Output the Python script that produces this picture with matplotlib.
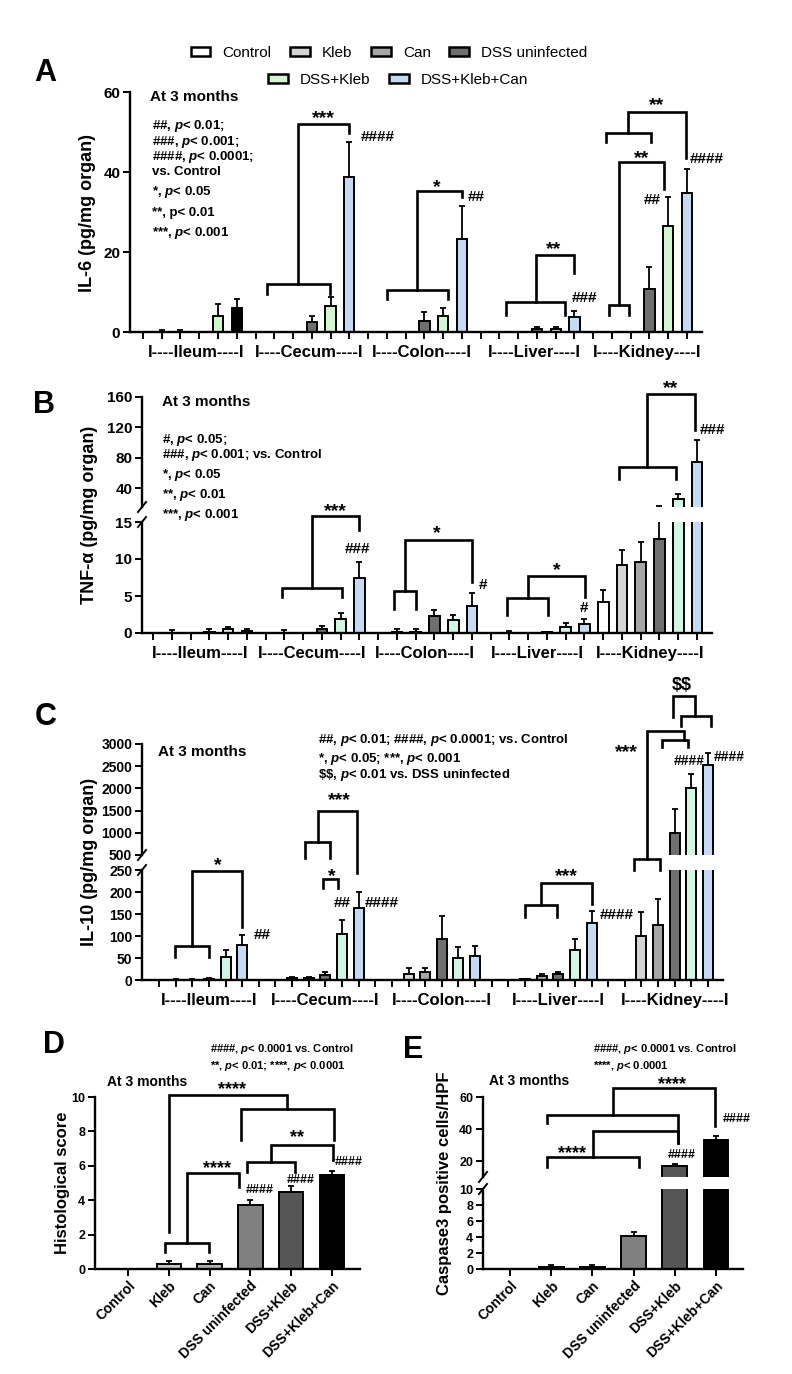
# -*- coding: UTF-8 -*-
# cytokines / histology / caspase3 at 3 months, prism-like style
import numpy as np
import matplotlib
matplotlib.use('Agg')
import matplotlib.pyplot as plt
from matplotlib.patches import Patch

plt.rcParams['font.family'] = ['Liberation Sans', 'DejaVu Sans']
plt.rcParams['font.weight'] = 'bold'
plt.rcParams['mathtext.fontset'] = 'custom'
plt.rcParams['mathtext.it'] = 'Liberation Sans:italic:bold'
plt.rcParams['mathtext.rm'] = 'Liberation Sans:bold'
plt.rcParams['mathtext.bf'] = 'Liberation Sans:bold'

W, H = 792, 1374

groups = ['Control', 'Kleb', 'Can', 'DSS uninfected', 'DSS+Kleb', 'DSS+Kleb+Can']
organs = ['Ileum', 'Cecum', 'Colon', 'Liver', 'Kidney']

# IL-6 (pg/mg organ), 6 groups per organ
il6_mean = [0, 0, 0, 0, 4.0, 6.0,
            0, 0, 0, 2.4, 6.4, 38.8,
            0, 0, 0, 2.8, 4.0, 23.2,
            0, 0, 0, 0.7, 0.8, 3.8,
            0, 0, 0, 10.8, 26.5, 34.8]
il6_sem = [0, 0.5, 0.5, 0, 3.0, 2.2,
           0, 0, 0, 1.7, 2.4, 8.7,
           0, 0, 0, 2.2, 2.0, 8.3,
           0, 0, 0, 0.6, 0.5, 1.4,
           0, 0, 0, 5.5, 7.3, 6.0]

# TNF-alpha
tnf_mean = [0, 0, 0, 0.2, 0.5, 0.3,
            0, 0, 0, 0.5, 1.9, 7.4,
            0, 0.2, 0.2, 2.3, 1.75, 3.65,
            0, 0, 0, 0.1, 0.8, 1.2,
            4.2, 9.2, 9.6, 12.7, 25.5, 74]
tnf_sem = [0, 0.4, 0, 0.3, 0.3, 0.3,
           0, 0.35, 0, 0.5, 0.8, 2.2,
           0, 0.4, 0.3, 0.8, 0.65, 1.75,
           0, 0.3, 0, 0.1, 0.55, 0.7,
           1.6, 2.0, 2.7, 3.8, 6.5, 29]

# IL-10
il10_mean = [0, 1, 1, 3, 52, 80,
             0, 4, 4, 12, 104, 163,
             0, 14, 18, 93, 50, 55,
             0, 2, 10, 14, 68, 130,
             0, 100, 125, 1000, 2020, 2520]
il10_sem = [0, 0.5, 0.5, 1, 16, 22,
            0, 2, 2, 7, 33, 37,
            0, 13, 9, 52, 25, 22,
            0, 1, 3, 4, 25, 27,
            0, 55, 60, 545, 300, 280]

# histological score
histo_mean = [0, 0.28, 0.28, 3.75, 4.5, 5.45]
histo_sem = [0, 0.2, 0.2, 0.27, 0.33, 0.22]

# caspase3 positive cells / HPF
casp_mean = [0, 0.2, 0.2, 4.15, 16.7, 33.2]
casp_sem = [0, 0.25, 0.25, 0.5, 1.5, 2.5]

grp_colors = ['white', '#d4d4d4', '#a6a6a6', '#6f6f6f', '#d3f5cf', '#c7daf3']
grp_colors2 = ['white', '#d4d4d4', '#a6a6a6', '#6f6f6f', '#d2f5e4', '#c7daf3']
gray_colors = ['white', '#c8c8c8', '#b0b0b0', '#808080', '#565656', '#000000']

STAR = 14

fig = plt.figure(figsize=(W / 100, H / 100), dpi=100)


def px_axes(l, t, r, b):
    return fig.add_axes([l / W, 1 - b / H, (r - l) / W, (b - t) / H])


def ftext(x, y, s, **kw):
    fig.text(x / W, 1 - y / H, s, **kw)


def setup(ax, xlim, ylim, yticks, fs, xticks=None):
    ax.set_xlim(xlim)
    ax.set_ylim(ylim)
    ax.set_yticks(yticks)
    ax.spines[['top', 'right']].set_visible(False)
    ax.spines['left'].set_linewidth(1.7)
    ax.spines['bottom'].set_linewidth(1.7)
    ax.tick_params(direction='out', length=5, width=1.4, labelsize=fs, pad=2)
    if xticks is not None:
        ax.set_xticks(xticks)
        ax.set_xticklabels([])
    else:
        ax.spines['bottom'].set_visible(False)
        ax.tick_params(axis='x', bottom=False, labelbottom=False)
    ax.patch.set_alpha(0)


def bars(ax, x, mean, sem, colors, width):
    x = np.asarray(x, float)
    mean = np.asarray(mean, float)
    sem = np.asarray(sem, float)
    ax.bar(x, mean, width=width, color=colors, edgecolor='black', linewidth=1.4, zorder=2)
    m = sem > 0
    ax.errorbar(x[m], mean[m], yerr=[np.zeros(m.sum()), sem[m]], fmt='none', ecolor='black',
                elinewidth=1.3, capsize=2.5, capthick=1.3, zorder=3)


def path(ax, xs, ys):
    ax.plot(xs, ys, color='black', lw=1.9, clip_on=False, solid_joinstyle='miter', zorder=5)


def nest(ax, x1, x2, h, leg, top, x3, leg3):
    path(ax, [x1, x1, x2, x2], [leg, h, h, leg])
    xm = (x1 + x2) / 2
    path(ax, [xm, xm, x3, x3], [h, top, top, leg3])


def lab(ax, x, y, s, fs=11):
    ax.text(x, y, s, ha='center', va='center', fontsize=fs, clip_on=False, zorder=6)


def slash(ax, yfrac):
    bb = ax.get_position()
    dx = 4 / (bb.width * W)
    dy = 5 / (bb.height * H)
    ax.plot([-dx, dx], [yfrac - dy, yfrac + dy], transform=ax.transAxes, color='black',
            lw=1.4, clip_on=False)


def organ_labels(ax, centers):
    for xc, name in zip(centers, organs):
        ax.annotate('I----' + name + '----I', xy=(xc, 0), xycoords=('data', 'axes fraction'),
                    xytext=(0, -14.5), textcoords='offset points', ha='center', va='center',
                    fontsize=12)


# ---------------- legend ----------------
handles = [Patch(facecolor=c, edgecolor='black', linewidth=1.8, label=g)
           for g, c in zip(groups, grp_colors)]
leg_font = {'family': ['Liberation Sans Narrow', 'Liberation Sans'], 'weight': 'normal', 'size': 11}
fig.legend(handles=handles[:4], loc='center', bbox_to_anchor=(389 / W, 1 - 53 / H), ncol=4,
           frameon=False, prop=leg_font, handlelength=1.3, handleheight=0.55,
           handletextpad=0.8, columnspacing=1.2)
fig.legend(handles=handles[4:], loc='center', bbox_to_anchor=(398 / W, 1 - 80 / H), ncol=2,
           frameon=False, prop=leg_font, handlelength=1.3, handleheight=0.55,
           handletextpad=0.8, columnspacing=1.2)

# ---------------- A : IL-6 ----------------
xA = np.arange(30)
colA = grp_colors * 5
colA[5] = 'black'
axA = px_axes(130, 92, 702, 332)
setup(axA, (-0.69, 29.8), (0, 60), [0, 20, 40, 60], 11, xticks=xA)
bars(axA, xA, il6_mean, il6_sem, colA, 0.55)
organ_labels(axA, [o * 6 + 2.85 for o in range(5)])
ftext(130 - 43, 213, 'IL-6 (pg/mg organ)', rotation=90, ha='center', va='center', fontsize=13)
ftext(34, 73, 'A', fontsize=22, ha='left', va='center')
ftext(150, 97, 'At 3 months', fontsize=11, ha='left', va='center')
a_lines = [r'##, $p$< 0.01;', r'###, $p$< 0.001;', r'####, $p$< 0.0001;', 'vs. Control',
           r'*, $p$< 0.05', '**, p< 0.01', r'***, $p$< 0.001']
for s, y in zip(a_lines, [126, 142, 157, 172, 192, 213, 233]):
    ftext(152, y, s, fontsize=9.5, ha='left', va='center')

nest(axA, 6.61, 9.97, 12, 9.5, 52, 10.98, 49.75)
lab(axA, 9.6, 53.25, '***', STAR)
lab(axA, 12.5, 48.75, '####')
nest(axA, 13.0, 16.26, 10.5, 8.25, 35.25, 17.0, 33.75)
lab(axA, 15.67, 36.0, '*', STAR)
lab(axA, 17.75, 33.75, '##')
nest(axA, 19.35, 22.5, 7.5, 4.25, 19.25, 22.97, 14.75)
lab(axA, 21.9, 20.5, '**', STAR)
lab(axA, 23.56, 8.5, '###')
nest(axA, 24.84, 25.9, 6.75, 4.25, 42.5, 27.77, 35.75)
lab(axA, 26.6, 43.25, '**', STAR)
lab(axA, 27.13, 33, '##')
nest(axA, 24.68, 27.08, 49.75, 47.5, 55, 28.94, 43.5)
lab(axA, 27.4, 56.5, '**', STAR)
lab(axA, 30.06, 43.25, '####')

# ---------------- B : TNF-alpha ----------------
xB = np.arange(30)
axBh = px_axes(142, 397, 712, 507)
axBl = px_axes(142, 522, 712, 633)
setup(axBh, (-0.59, 29.8), (15, 160), [40, 80, 120, 160], 11)
setup(axBl, (-0.59, 29.8), (0, 15), [0, 5, 10, 15], 11, xticks=xB)
for ax in (axBh, axBl):
    bars(ax, xB, tnf_mean, tnf_sem, grp_colors2 * 5, 0.57)
slash(axBh, 0)
slash(axBl, 1)
organ_labels(axBl, [o * 6 + 2.5 for o in range(5)])
ftext(90, 515, 'TNF-α (pg/mg organ)', rotation=90, ha='center', va='center', fontsize=13)
ftext(33, 405, 'B', fontsize=22, ha='left', va='center')
ftext(162, 402, 'At 3 months', fontsize=11, ha='left', va='center')
b_lines = [r'#, $p$< 0.05;', r'###, $p$< 0.001; vs. Control', r'*, $p$< 0.05',
           r'**, $p$< 0.01', r'***, $p$< 0.001']
for s, y in zip(b_lines, [440, 455, 475, 495, 515]):
    ftext(162, y, s, fontsize=9.5, ha='left', va='center')

nest(axBl, 6.88, 10.07, 6.1, 4.9, 15.8, 10.98, 13.9)
lab(axBl, 9.7, 16.4, '***', STAR)
lab(axBl, 10.9, 11.4, '###')
nest(axBl, 12.85, 14.02, 5.7, 3.2, 12.6, 17.0, 6.9)
lab(axBl, 15.1, 13.4, '*', STAR)
lab(axBl, 17.6, 6.5, '#')
nest(axBl, 18.87, 21.06, 4.7, 2.4, 7.7, 23.03, 4.9)
lab(axBl, 21.5, 8.4, '*', STAR)
lab(axBl, 23.0, 3.4, '#')
nest(axBh, 24.84, 27.88, 67.8, 52, 164, 28.89, 116.6)
lab(axBh, 27.6, 170.6, '**', STAR)
lab(axBh, 29.85, 116.6, '###')

# ---------------- C : IL-10 ----------------
xC = np.array([o * 7 + g for o in range(5) for g in range(6)])
axCh = px_axes(142, 744, 723, 855)
axCl = px_axes(142, 870, 723, 980)
setup(axCh, (-1.02, 33.9), (500, 3000), [500, 1000, 1500, 2000, 2500, 3000], 10)
setup(axCl, (-1.02, 33.9), (0, 250), [0, 50, 100, 150, 200, 250], 10, xticks=np.arange(34))
for ax in (axCh, axCl):
    bars(ax, xC, il10_mean, il10_sem, grp_colors2 * 5, 0.6)
slash(axCh, 0)
slash(axCl, 1)
organ_labels(axCl, [o * 7 + 3 for o in range(5)])
ftext(90, 862, 'IL-10 (pg/mg organ)', rotation=90, ha='center', va='center', fontsize=13)
ftext(35, 717, 'C', fontsize=22, ha='left', va='center')
ftext(158, 752, 'At 3 months', fontsize=11, ha='left', va='center')
c_lines = [r'##, $p$< 0.01; ####, $p$< 0.0001; vs. Control', r'*, $p$< 0.05; ***, $p$< 0.001',
           r'\$\$, $p$< 0.01 vs. DSS uninfected']
for s, y in zip(c_lines, [740, 759, 775]):
    ftext(318, y, s, fontsize=9.5, ha='left', va='center')

nest(axCl, 0.96, 3.0, 77, 52, 248, 4.98, 120)
lab(axCl, 3.54, 259, '*', STAR)
lab(axCl, 6.2, 102, '##')
path(axCl, [9.84, 9.84, 10.74, 10.74], [209, 230, 230, 209])
lab(axCl, 10.38, 236, '*', STAR)
nest(axCh, 8.8, 10.26, 795, 432, 1500, 11.88, 91)
lab(axCh, 10.86, 1728, '***', STAR)
lab(axCl, 11.0, 175, '##')
lab(axCl, 13.4, 175, '####')
nest(axCl, 22.0, 23.9, 170, 143, 220, 26.0, 173)
lab(axCl, 24.5, 236, '***', STAR)
lab(axCl, 27.5, 148, '####')
nest(axCh, 28.55, 30.1, 409, 159, 3295, 31.55, 3091)
path(axCh, [30.25, 30.25, 31.8, 31.8], [2932, 3091, 3091, 2932])
lab(axCh, 28.1, 2796, '***', STAR)
path(axCh, [30.9, 30.9, 32.2, 32.2], [3614, 4091, 4091, 3636])
path(axCh, [31.4, 31.4, 33.2, 33.2], [3409, 3636, 3636, 3409])
lab(axCh, 31.45, 4318, r'\$\$', 13)
lab(axCh, 31.85, 2614, '####', 10)
lab(axCh, 34.3, 2705, '####', 10)

# ---------------- D : histological score ----------------
xD = np.arange(6)
axD = px_axes(95, 1097, 360, 1269)
setup(axD, (-0.81, 5.69), (0, 10), [0, 2, 4, 6, 8, 10], 9, xticks=xD)
axD.set_xticklabels(groups, rotation=45, ha='right', rotation_mode='anchor', fontsize=10)
bars(axD, xD, histo_mean, histo_sem, gray_colors, 0.6)
ftext(63, 1183, 'Histological score', rotation=90, ha='center', va='center', fontsize=12)
ftext(43, 1045, 'D', fontsize=22, ha='left', va='center')
ftext(107, 1082, 'At 3 months', fontsize=10, ha='left', va='center')
ftext(210, 1049, r'####, $p$< 0.0001 vs. Control', fontsize=8, ha='left', va='center')
ftext(210, 1066, r'**, $p$< 0.01; ****, $p$< 0.0001', fontsize=8, ha='left', va='center')

path(axD, [0.91, 0.91, 1.99, 1.99], [1.0, 1.5, 1.5, 1.0])
path(axD, [1.45, 1.45, 2.72, 2.72], [1.5, 5.58, 5.58, 4.77])
lab(axD, 2.18, 5.81, '****', 13)
path(axD, [2.92, 2.92, 4.09, 4.09], [5.64, 6.22, 6.22, 5.64])
path(axD, [3.5, 3.5, 5.02, 5.02], [6.22, 7.2, 7.2, 6.34])
lab(axD, 4.14, 7.62, '**', 13)
path(axD, [2.77, 2.77, 5.05, 5.05], [7.5, 9.3, 9.3, 7.5])
path(axD, [3.91, 3.91, 1.0, 1.0], [9.3, 10.1, 10.1, 2.15])
lab(axD, 2.55, 10.41, '****', 13)
lab(axD, 3.23, 4.6, '####', 9)
lab(axD, 4.24, 5.2, '####', 9)
lab(axD, 5.42, 6.2, '####', 9)

# ---------------- E : caspase3 ----------------
xE = np.arange(6)
axEh = px_axes(483, 1097, 743, 1177)
axEl = px_axes(483, 1189, 743, 1269)
setup(axEh, (-0.66, 5.66), (10, 60), [20, 40, 60], 9)
setup(axEl, (-0.66, 5.66), (0, 10), [0, 2, 4, 6, 8, 10], 9, xticks=xE)
axEl.set_xticklabels(groups, rotation=45, ha='right', rotation_mode='anchor', fontsize=10)
for ax in (axEh, axEl):
    bars(ax, xE, casp_mean, casp_sem, gray_colors, 0.6)
slash(axEh, 0)
slash(axEl, 1)
ftext(445, 1183, 'Caspase3 positive cells/HPF', rotation=90, ha='center', va='center', fontsize=12)
ftext(403, 1050, 'E', fontsize=22, ha='left', va='center')
ftext(489, 1081, 'At 3 months', fontsize=10, ha='left', va='center')
ftext(593, 1049, r'####, $p$< 0.0001 vs. Control', fontsize=8, ha='left', va='center')
ftext(593, 1066, r'****, $p$< 0.0001', fontsize=8, ha='left', va='center')

path(axEh, [0.9, 0.9, 3.13, 3.13], [16.25, 22.5, 22.5, 16.25])
path(axEh, [2.02, 2.02, 4.08, 4.08], [22.5, 38.75, 38.75, 31.25])
lab(axEh, 1.5, 24.4, '****', 13)
path(axEh, [0.9, 0.9, 4.08, 4.08], [43.75, 48.75, 48.75, 31.25])
path(axEh, [2.49, 2.49, 4.98, 4.98], [48.75, 65.6, 65.6, 41.9])
lab(axEh, 3.93, 67.5, '****', 13)
lab(axEh, 4.17, 23.75, '####', 9)
lab(axEh, 5.5, 46.25, '####', 9)

plt.savefig('out.png', dpi=100)
plt.close()
